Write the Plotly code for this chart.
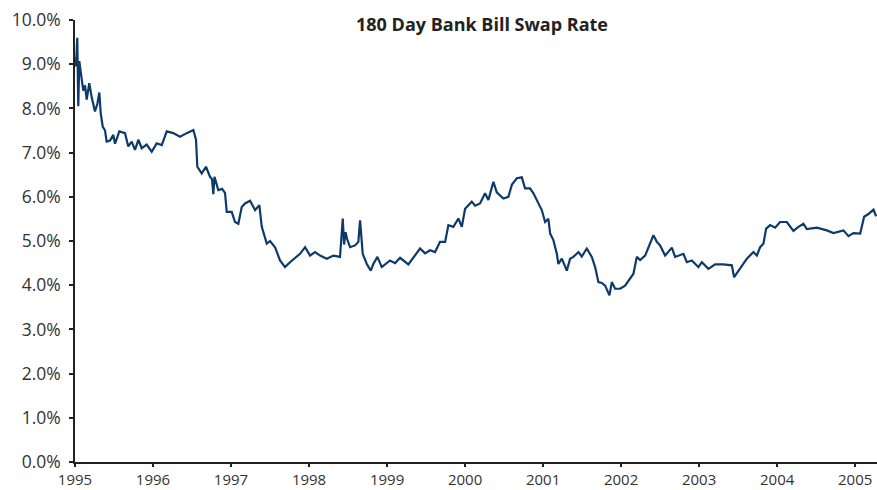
import plotly.graph_objects as go

# Decimal years and 180-day bank bill swap rate (%)
years = [
    1995.000, 1995.013, 1995.029, 1995.042, 1995.055, 1995.086, 1995.106, 1995.128, 1995.150, 1995.183,
    1995.214, 1995.256, 1995.286, 1995.312, 1995.329, 1995.355, 1995.385, 1995.406, 1995.449, 1995.491,
    1995.513, 1995.568, 1995.641, 1995.683, 1995.727, 1995.769, 1995.812, 1995.855, 1995.919, 1995.983,
    1996.047, 1996.112, 1996.176, 1996.260, 1996.346, 1996.432, 1996.517, 1996.551, 1996.568, 1996.624,
    1996.679, 1996.731, 1996.756, 1996.773, 1996.788, 1996.837, 1996.885, 1996.923, 1996.945, 1997.009,
    1997.051, 1997.094, 1997.137, 1997.179, 1997.244, 1997.308, 1997.363, 1997.394, 1997.458, 1997.500,
    1997.564, 1997.628, 1997.692, 1997.756, 1997.821, 1997.885, 1997.949, 1998.013, 1998.077, 1998.141,
    1998.227, 1998.312, 1998.397, 1998.432, 1998.449, 1998.468, 1998.487, 1998.526, 1998.590, 1998.632,
    1998.654, 1998.688, 1998.740, 1998.791, 1998.824, 1998.876, 1998.932, 1999.038, 1999.103, 1999.167,
    1999.273, 1999.359, 1999.423, 1999.487, 1999.551, 1999.615, 1999.679, 1999.744, 1999.786, 1999.850,
    1999.914, 1999.958, 2000.000, 2000.086, 2000.128, 2000.192, 2000.256, 2000.299, 2000.363, 2000.406,
    2000.491, 2000.555, 2000.599, 2000.663, 2000.727, 2000.769, 2000.833, 2000.876, 2000.940, 2000.983,
    2001.026, 2001.068, 2001.090, 2001.132, 2001.176, 2001.196, 2001.240, 2001.304, 2001.346, 2001.388,
    2001.453, 2001.496, 2001.560, 2001.624, 2001.667, 2001.709, 2001.753, 2001.795, 2001.850, 2001.881,
    2001.923, 2001.987, 2002.051, 2002.094, 2002.158, 2002.201, 2002.244, 2002.308, 2002.350, 2002.414,
    2002.458, 2002.500, 2002.564, 2002.650, 2002.692, 2002.799, 2002.842, 2002.906, 2002.991, 2003.035,
    2003.119, 2003.205, 2003.312, 2003.419, 2003.449, 2003.526, 2003.612, 2003.696, 2003.740, 2003.782,
    2003.824, 2003.859, 2003.910, 2003.974, 2004.038, 2004.124, 2004.209, 2004.273, 2004.337, 2004.380,
    2004.509, 2004.637, 2004.722, 2004.850, 2004.914, 2004.978, 2005.064, 2005.085, 2005.115, 2005.170,
    2005.235, 2005.269,
]
rates = [
    9.16, 8.95, 9.60, 8.05, 9.07, 8.66, 8.40, 8.52, 8.20, 8.57,
    8.25, 7.93, 8.10, 8.36, 7.90, 7.59, 7.50, 7.25, 7.27, 7.40,
    7.20, 7.48, 7.44, 7.14, 7.25, 7.06, 7.29, 7.10, 7.18, 7.02,
    7.21, 7.17, 7.48, 7.44, 7.36, 7.44, 7.51, 7.29, 6.68, 6.53,
    6.68, 6.45, 6.40, 6.06, 6.45, 6.15, 6.18, 6.09, 5.66, 5.66,
    5.43, 5.39, 5.77, 5.85, 5.91, 5.70, 5.81, 5.32, 4.94, 5.00,
    4.86, 4.56, 4.41, 4.52, 4.62, 4.71, 4.86, 4.67, 4.75, 4.67,
    4.60, 4.67, 4.64, 5.51, 4.92, 5.20, 5.05, 4.86, 4.90, 4.98,
    5.47, 4.71, 4.48, 4.33, 4.48, 4.64, 4.41, 4.56, 4.50, 4.62,
    4.47, 4.67, 4.83, 4.72, 4.79, 4.75, 4.98, 4.98, 5.36, 5.32,
    5.51, 5.32, 5.73, 5.89, 5.80, 5.85, 6.08, 5.93, 6.34, 6.10,
    5.96, 6.00, 6.27, 6.42, 6.44, 6.19, 6.19, 6.08, 5.85, 5.70,
    5.43, 5.50, 5.17, 5.02, 4.71, 4.48, 4.60, 4.33, 4.60, 4.64,
    4.75, 4.65, 4.83, 4.64, 4.41, 4.07, 4.05, 3.99, 3.77, 4.07,
    3.92, 3.92, 3.99, 4.10, 4.26, 4.64, 4.57, 4.67, 4.86, 5.13,
    4.98, 4.90, 4.67, 4.85, 4.64, 4.71, 4.52, 4.56, 4.41, 4.52,
    4.37, 4.47, 4.47, 4.45, 4.18, 4.37, 4.60, 4.75, 4.67, 4.86,
    4.94, 5.28, 5.36, 5.30, 5.43, 5.43, 5.23, 5.32, 5.39, 5.27,
    5.30, 5.24, 5.18, 5.24, 5.11, 5.18, 5.17, 5.32, 5.55, 5.61,
    5.71, 5.56,
]
year_ticks = list(range(1995, 2006))
rate_ticks = [0, 1, 2, 3, 4, 5, 6, 7, 8, 9, 10]
title_text = "180 Day Bank Bill Swap Rate"

fig = go.Figure()
fig.add_trace(go.Scatter(
    x=years, y=rates, mode="lines",
    line=dict(color="#0d3a6b", width=2.2),
    hoverinfo="skip", showlegend=False,
))

fig.update_layout(
    width=877, height=490,
    margin=dict(l=75, r=0, t=20, b=28),
    paper_bgcolor="white", plot_bgcolor="white",
    font=dict(family="Open Sans, Noto Sans, sans-serif", size=17, color="#333333"),
    annotations=[dict(
        text="<b>" + title_text + "</b>", x=(482 - 75) / (877 - 75), xref="paper",
        y=1.0, yref="paper", xanchor="center", yanchor="middle", yshift=-4,
        showarrow=False, font=dict(size=18, color="#222222"),
    )],
    xaxis=dict(
        range=[1995, 2005.28], tickvals=year_ticks, ticktext=[str(y) for y in year_ticks],
        showgrid=False, zeroline=False, showline=True, linecolor="#222222", linewidth=1.5,
        ticks="outside", ticklen=3, tickwidth=1.5, tickcolor="#222222",
        tickfont=dict(size=15, color="#333333"), automargin=False,
    ),
    yaxis=dict(
        range=[0, 10], tickvals=rate_ticks, ticktext=[f"{v:.1f}%" for v in rate_ticks],
        showgrid=False, zeroline=False, showline=True, linecolor="#222222", linewidth=1.5,
        ticks="outside", ticklen=4, tickwidth=1.5, tickcolor="#222222",
        tickfont=dict(size=17.5, color="#333333"), automargin=False,
        ticklabelstandoff=5,
    ),
)

fig.write_html(
    "out.html",
    config={"displayModeBar": False},
    post_script="document.body.style.margin='0';document.body.style.overflow='hidden';",
)
